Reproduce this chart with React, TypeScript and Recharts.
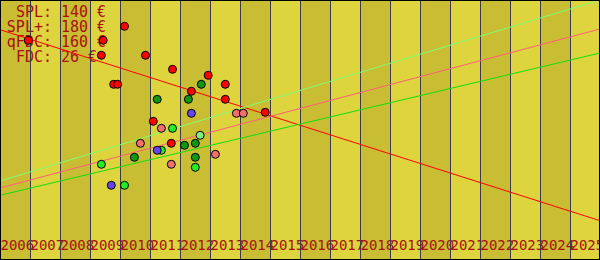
import React from "react"
import { ScatterChart, Scatter, XAxis, YAxis, ReferenceArea, ReferenceLine } from "recharts"

// years shown on the axis (one band per year)
const years = [2006, 2007, 2008, 2009, 2010, 2011, 2012, 2013, 2014, 2015, 2016, 2017, 2018, 2019, 2020, 2021, 2022, 2023, 2024, 2025]

// legend entries
const legendLabels = ["SPL", "SPL+", "qFDC", "FDC"]
const legendPrices = [140, 180, 160, 26]

// scatter groups: x = year, y = price
const redYears = [2006.94, 2010.15, 2009.44, 2009.38, 2010.85, 2009.79, 2009.92, 2011.75, 2012.94, 2012.38, 2013.51, 2013.51, 2014.84, 2011.11, 2011.71]
const redPrices = [219.7, 233.7, 219.7, 204.7, 204.7, 175.7, 175.7, 190.7, 184.7, 168.7, 175.7, 160.7, 147.7, 138.7, 116.7]

const darkGreenYears = [2012.71, 2011.24, 2012.28, 2012.15, 2012.51, 2010.48, 2012.51]
const darkGreenPrices = [175.7, 160.7, 160.7, 114.7, 116.7, 102.7, 102.7]

const greenYears = [2011.75, 2011.38, 2009.38, 2010.15, 2012.51]
const greenPrices = [131.7, 109.7, 95.7, 74.7, 92.7]

const lightGreenYears = [2012.67]
const lightGreenPrices = [124.7]

const pinkYears = [2011.38, 2010.68, 2011.71, 2013.18, 2013.88, 2014.11]
const pinkPrices = [131.7, 116.7, 95.7, 105.7, 146.7, 146.7]

const blueYears = [2012.38, 2011.24, 2009.71]
const bluePrices = [146.7, 109.7, 74.7]

// trend lines: price at start (2006) and end (2026)
const trendNames = ["red", "lightGreen", "pink", "green"]
const trendStart = [230.3, 79, 72, 64.7]
const trendEnd = [39.3, 260, 231, 207]

const TEXT = "#a81010"
const MONO = "'DejaVu Sans Mono', monospace"

const trendColors: Record<string, string> = {
  red: "#ff0000",
  lightGreen: "#80ff70",
  pink: "#ff6078",
  green: "#10e010",
}

const toPoints = (xs: number[], ys: number[]) => xs.map((x, i) => ({ year: x, price: ys[i] }))

const groups = [
  { name: "red", fill: "#ff0000", data: toPoints(redYears, redPrices) },
  { name: "darkGreen", fill: "#109910", data: toPoints(darkGreenYears, darkGreenPrices) },
  { name: "green", fill: "#22ee22", data: toPoints(greenYears, greenPrices) },
  { name: "lightGreen", fill: "#80f080", data: toPoints(lightGreenYears, lightGreenPrices) },
  { name: "pink", fill: "#f07070", data: toPoints(pinkYears, pinkPrices) },
  { name: "blue", fill: "#6644ee", data: toPoints(blueYears, bluePrices) },
]

const Dot = (props: any) => {
  const { cx, cy, fill } = props
  return <circle cx={cx} cy={cy} r={4} fill={fill} stroke="#000" strokeWidth={1} />
}

// drawn as the label of the last band, so it sits above every band
const Overlay = (props: any) => {
  const vb = props.viewBox || {}
  const step = vb.width || 30
  const x0 = (vb.x ?? 570) - step * (years.length - 1)
  return (
    <g>
      {years.map((y, i) => (
        <text key={y} x={x0 + i * step + 0.5} y={250} fill={TEXT} fontSize={14} fontFamily={MONO}>
          {y}
        </text>
      ))}
      {legendLabels.map((l, i) => (
        <g key={l}>
          <text x={52} y={17 + i * 15} fill={TEXT} fontSize={15} fontFamily={MONO} textAnchor="end">
            {l}:
          </text>
          <text x={61} y={17 + i * 15} fill={TEXT} fontSize={15} fontFamily={MONO} textAnchor="start">
            {legendPrices[i]} €
          </text>
        </g>
      ))}
    </g>
  )
}

export default function App() {
  return (
    <div style={{ position: "absolute", left: 0, top: 0, width: 600, height: 260 }}>
      <ScatterChart width={600} height={260} margin={{ top: 0, right: 0, bottom: 0, left: 0 }}>
        <XAxis type="number" dataKey="year" domain={[2006, 2026]} hide height={0} />
        <YAxis type="number" dataKey="price" domain={[0, 260]} hide width={0} />
        {years.map((y, i) => (
          <ReferenceArea
            key={"band" + y}
            x1={y}
            x2={y + 1}
            y1={0}
            y2={260}
            fill={i % 2 === 0 ? "#c9bd33" : "#ddd43e"}
            fillOpacity={1}
            stroke="none"
            label={i === years.length - 1 ? <Overlay /> : undefined}
          />
        ))}
        {years.slice(1).map((y) => (
          <ReferenceLine key={"grid" + y} x={y} stroke="#3a3a50" strokeWidth={1} shapeRendering="crispEdges" />
        ))}
        {trendNames.map((n, i) => (
          <ReferenceLine
            key={"trend" + n}
            segment={[
              { x: 2006, y: trendStart[i] },
              { x: 2026, y: trendEnd[i] },
            ]}
            stroke={trendColors[n]}
            strokeWidth={1}
            ifOverflow="visible"
          />
        ))}
        {groups.map((g) => (
          <Scatter key={g.name} name={g.name} data={g.data} fill={g.fill} shape={<Dot />} isAnimationActive={false} />
        ))}
      </ScatterChart>
      <div
        style={{
          position: "absolute",
          left: 0,
          top: 0,
          width: 600,
          height: 260,
          boxSizing: "border-box",
          border: "1px solid #000",
          pointerEvents: "none",
        }}
      />
    </div>
  )
}
